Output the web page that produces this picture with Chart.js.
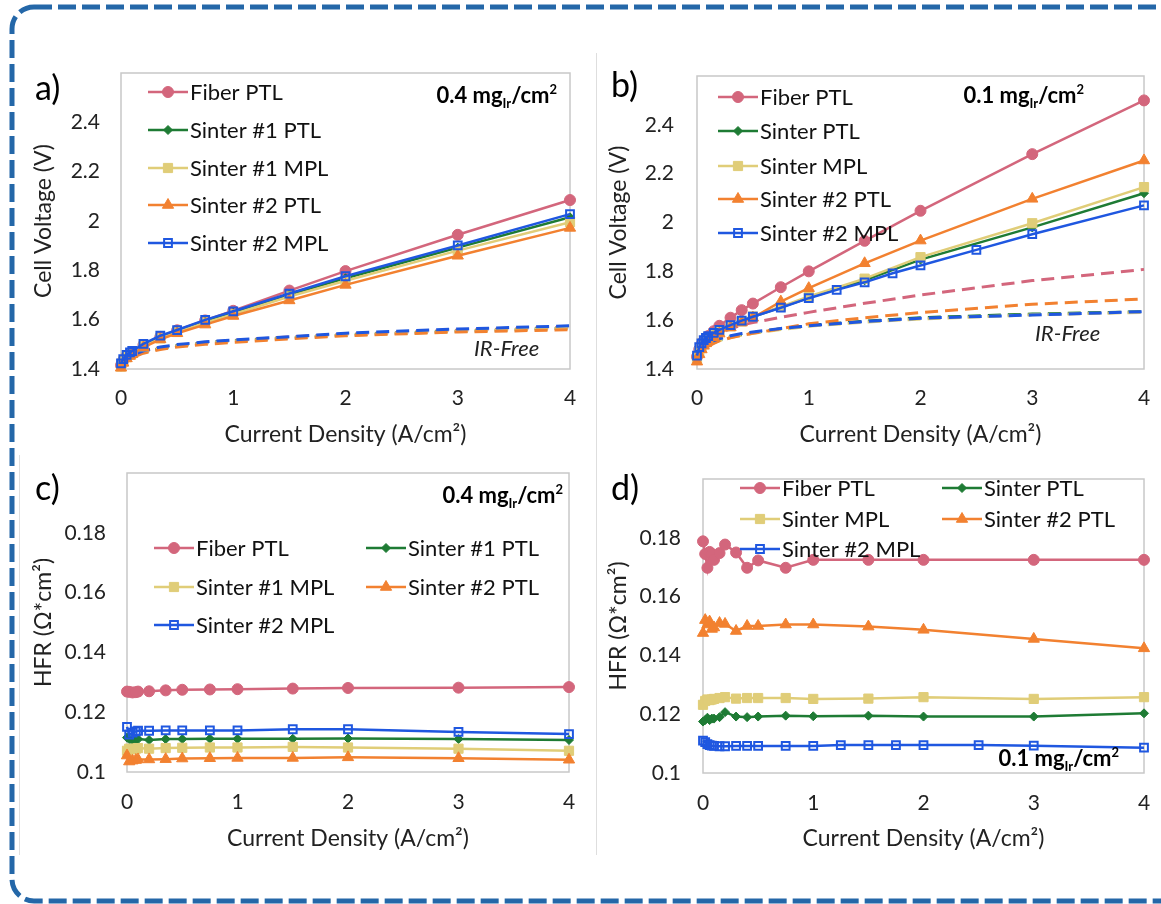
<!DOCTYPE html>
<html>
<head>
<meta charset="utf-8">
<script src="https://cdn.jsdelivr.net/npm/chart.js@4.4.1/dist/chart.umd.min.js"></script>
<style>
  body { margin: 0; background: #fff; width: 1161px; height: 904px; overflow: hidden; position: relative; font-family: Lato, sans-serif; }
  .pan { position: absolute; }
  .lab { position: absolute; font-size: 34px; line-height: 34px; color: #000; }
  .ann { position: absolute; font-weight: bold; font-size: 22px; line-height: 22px; white-space: nowrap; color: #000; }
  .ann sub { font-size: 13px; vertical-align: -5px; line-height: 0; }
  .ann sup { font-size: 13px; vertical-align: 9px; line-height: 0; }
  .irf { position: absolute; font-style: italic; font-size: 22px; line-height: 22px; color: #222; }
  .vline { position: absolute; width: 1px; background: #dedede; }
</style>
</head>
<body>
<svg width="1161" height="904" style="position:absolute;left:0;top:0">
  <rect x="12" y="7" width="1185" height="894" rx="22" ry="22" fill="none" stroke="#2467a8" stroke-width="5" stroke-dasharray="18 6"/>
</svg>
<div class="vline" style="left:596px;top:53px;height:802px"></div>
<div class="vline" style="left:19px;top:455px;height:400px"></div>

<div class="pan" style="left:20px;top:60px;width:560px;height:400px"><canvas id="cA"></canvas></div>
<div class="pan" style="left:600px;top:60px;width:561px;height:400px"><canvas id="cB"></canvas></div>
<div class="pan" style="left:20px;top:460px;width:560px;height:400px"><canvas id="cC"></canvas></div>
<div class="pan" style="left:600px;top:460px;width:561px;height:400px"><canvas id="cD"></canvas></div>

<div class="lab" style="left:35px;top:70px">a)</div>
<div class="lab" style="left:611px;top:67px">b)</div>
<div class="lab" style="left:35px;top:470px">c)</div>
<div class="lab" style="left:611px;top:470px">d)</div>

<div class="ann" style="right:604px;top:84px">0.4 mg<sub>Ir</sub>/cm<sup>2</sup></div>
<div class="ann" style="right:77px;top:84px">0.1 mg<sub>Ir</sub>/cm<sup>2</sup></div>
<div class="ann" style="right:598px;top:484px">0.4 mg<sub>Ir</sub>/cm<sup>2</sup></div>
<div class="ann" style="right:42px;top:747px">0.1 mg<sub>Ir</sub>/cm<sup>2</sup></div>
<div class="irf" style="left:474px;top:337px">IR-Free</div>
<div class="irf" style="left:1035px;top:322px">IR-Free</div>

<script>
// ---- data ----
// a) 0.4 mg loading, polarization curves
const xA = [0, 0.02, 0.05, 0.08, 0.1, 0.2, 0.35, 0.5, 0.75, 1, 1.5, 2, 3, 4];
const vA_fiber = [1.415, 1.435, 1.452, 1.462, 1.468, 1.497, 1.53, 1.557, 1.597, 1.636, 1.718, 1.797, 1.944, 2.085];
const vA_s1ptl = [1.41, 1.432, 1.45, 1.46, 1.466, 1.495, 1.527, 1.553, 1.592, 1.628, 1.702, 1.768, 1.892, 2.015];
const vA_s1mpl = [1.41, 1.43, 1.448, 1.458, 1.464, 1.492, 1.524, 1.55, 1.588, 1.622, 1.694, 1.758, 1.88, 1.995];
const vA_s2ptl = [1.405, 1.425, 1.443, 1.453, 1.46, 1.488, 1.52, 1.545, 1.58, 1.615, 1.678, 1.741, 1.859, 1.972];
const vA_s2mpl = [1.423, 1.44, 1.457, 1.467, 1.473, 1.502, 1.535, 1.558, 1.599, 1.634, 1.706, 1.776, 1.901, 2.028];
// a) IR-free
const irA_fiber = [1.415, 1.43, 1.442, 1.449, 1.453, 1.47, 1.485, 1.495, 1.507, 1.516, 1.53, 1.541, 1.557, 1.57];
const irA_s1ptl = [1.41, 1.428, 1.44, 1.447, 1.451, 1.468, 1.483, 1.493, 1.505, 1.514, 1.527, 1.538, 1.553, 1.566];
const irA_s1mpl = [1.41, 1.427, 1.439, 1.446, 1.45, 1.467, 1.482, 1.492, 1.504, 1.513, 1.526, 1.537, 1.552, 1.565];
const irA_s2ptl = [1.405, 1.424, 1.436, 1.443, 1.447, 1.464, 1.479, 1.489, 1.5, 1.508, 1.522, 1.535, 1.55, 1.559];
const irA_s2mpl = [1.423, 1.435, 1.446, 1.452, 1.456, 1.474, 1.489, 1.499, 1.51, 1.518, 1.531, 1.545, 1.562, 1.575];

// b) 0.1 mg loading
const xB = [0, 0.02, 0.04, 0.06, 0.08, 0.1, 0.15, 0.2, 0.3, 0.4, 0.5, 0.75, 1, 1.5, 2, 3, 4];
const xB2 = [0, 0.02, 0.04, 0.06, 0.08, 0.1, 0.15, 0.2, 0.3, 0.4, 0.5, 0.75, 1, 1.25, 1.5, 1.75, 2, 2.5, 3, 4];
const vB_fiber = [1.45, 1.48, 1.5, 1.515, 1.525, 1.535, 1.555, 1.577, 1.61, 1.641, 1.668, 1.735, 1.8, 1.925, 2.048, 2.28, 2.5];
const vB_s1ptl = [1.445, 1.475, 1.495, 1.51, 1.52, 1.528, 1.543, 1.557, 1.578, 1.598, 1.614, 1.653, 1.692, 1.763, 1.848, 1.98, 2.12];
const vB_s1mpl = [1.44, 1.47, 1.49, 1.505, 1.515, 1.525, 1.54, 1.555, 1.575, 1.595, 1.615, 1.655, 1.697, 1.77, 1.858, 1.997, 2.145];
const vB_s2ptl = [1.43, 1.46, 1.48, 1.495, 1.505, 1.515, 1.53, 1.545, 1.57, 1.59, 1.61, 1.676, 1.731, 1.833, 1.926, 2.097, 2.254];
const vB_s2mpl = [1.455, 1.49, 1.505, 1.518, 1.527, 1.535, 1.548, 1.56, 1.58, 1.598, 1.614, 1.651, 1.69, 1.724, 1.755, 1.792, 1.824, 1.888, 1.952, 2.07];
const irB_fiber = [1.45, 1.47, 1.485, 1.497, 1.506, 1.514, 1.53, 1.545, 1.565, 1.58, 1.59, 1.612, 1.632, 1.669, 1.703, 1.762, 1.808];
const irB_s1ptl = [1.445, 1.465, 1.478, 1.487, 1.493, 1.499, 1.51, 1.519, 1.532, 1.541, 1.549, 1.565, 1.578, 1.596, 1.61, 1.625, 1.635];
const irB_s1mpl = [1.44, 1.46, 1.474, 1.483, 1.49, 1.496, 1.507, 1.516, 1.529, 1.538, 1.546, 1.562, 1.575, 1.592, 1.605, 1.622, 1.632];
const irB_s2ptl = [1.43, 1.455, 1.47, 1.48, 1.487, 1.493, 1.505, 1.515, 1.528, 1.538, 1.546, 1.565, 1.585, 1.61, 1.631, 1.665, 1.687];
const irB_s2mpl = [1.455, 1.475, 1.487, 1.495, 1.501, 1.506, 1.516, 1.524, 1.536, 1.545, 1.552, 1.566, 1.577, 1.594, 1.608, 1.621, 1.635];

// c) HFR 0.4 mg
const xC = [0, 0.02, 0.05, 0.08, 0.1, 0.2, 0.35, 0.5, 0.75, 1, 1.5, 2, 3, 4];
const hC_fiber = [0.1269, 0.1268, 0.1266, 0.1267, 0.1269, 0.127, 0.1273, 0.1275, 0.1276, 0.1277, 0.1279, 0.1281, 0.1282, 0.1284];
const hC_s1ptl = [0.1115, 0.111, 0.1105, 0.1108, 0.111, 0.1107, 0.111, 0.111, 0.1111, 0.1111, 0.1111, 0.1112, 0.111, 0.1107];
const hC_s1mpl = [0.1071, 0.1078, 0.1076, 0.1078, 0.108, 0.1078, 0.108, 0.1081, 0.1082, 0.1082, 0.1084, 0.1082, 0.1078, 0.1071];
const hC_s2ptl = [0.1055, 0.1035, 0.1038, 0.104, 0.1042, 0.1042, 0.1043, 0.1045, 0.1046, 0.1047, 0.1047, 0.1049, 0.1046, 0.1041];
const hC_s2mpl = [0.1151, 0.1125, 0.1132, 0.1136, 0.1138, 0.1138, 0.1139, 0.1139, 0.1139, 0.1139, 0.1143, 0.1143, 0.1134, 0.1127];

// d) HFR 0.1 mg
const xD = [0, 0.02, 0.04, 0.06, 0.08, 0.1, 0.15, 0.2, 0.3, 0.4, 0.5, 0.75, 1, 1.5, 2, 3, 4];
const xD2 = [0, 0.02, 0.04, 0.06, 0.08, 0.1, 0.15, 0.2, 0.3, 0.4, 0.5, 0.75, 1, 1.25, 1.5, 1.75, 2, 2.5, 3, 4];
const hD_fiber = [0.1788, 0.1745, 0.1698, 0.1752, 0.1745, 0.1725, 0.1748, 0.1777, 0.175, 0.1698, 0.1723, 0.1698, 0.1725, 0.1725, 0.1725, 0.1725, 0.1725];
const hD_s1ptl = [0.1175, 0.118, 0.1188, 0.118, 0.1185, 0.1185, 0.119, 0.1207, 0.1192, 0.119, 0.1192, 0.1195, 0.1193, 0.1195, 0.1192, 0.1192, 0.1203];
const hD_s1mpl = [0.1232, 0.1245, 0.125, 0.1248, 0.125, 0.1252, 0.1255, 0.1258, 0.1253, 0.1255, 0.1255, 0.1255, 0.1252, 0.1253, 0.1258, 0.1252, 0.1258];
const hD_s2ptl = [0.1476, 0.152, 0.1505, 0.1515, 0.149, 0.1495, 0.151, 0.1507, 0.1483, 0.15, 0.15, 0.1505, 0.1505, 0.1498, 0.1487, 0.1456, 0.1424];
const hD_s2mpl = [0.111, 0.1105, 0.1098, 0.1095, 0.1093, 0.1092, 0.1091, 0.1091, 0.1092, 0.1092, 0.1092, 0.1092, 0.1092, 0.1095, 0.1095, 0.1095, 0.1095, 0.1095, 0.1093, 0.1086];

const xTicks = [0, 1, 2, 3, 4];
const vTicks = [1.4, 1.6, 1.8, 2, 2.2, 2.4];
const hTicks = [0.1, 0.12, 0.14, 0.16, 0.18];

// ---- styles ----
const STY = {
  fiber: { color: '#d3667c', shape: 'circle', r: 5.5, fill: '#d3667c' },
  s1ptl: { color: '#1e7b34', shape: 'rectRot', r: 4.5, fill: '#1e7b34' },
  s1mpl: { color: '#e0cd78', shape: 'rect', r: 6.5, fill: '#e0cd78' },
  s2ptl: { color: '#f28130', shape: 'triangle', r: 6.5, fill: '#f28130' },
  s2mpl: { color: '#1f57e0', shape: 'rect', r: 5.5, fill: 'rgba(255,255,255,0)' }
};
const ORDER = ['fiber', 's1ptl', 's1mpl', 's2ptl', 's2mpl'];

function pts(xs, ys) { return ys.map((y, i) => ({ x: xs[i], y: y })); }

function solid(label, key, xs, ys) {
  const s = STY[key];
  return {
    label: label, data: pts(xs, ys), borderColor: s.color, borderWidth: 2.5,
    pointStyle: s.shape, pointRadius: s.r, pointHoverRadius: s.r,
    pointBackgroundColor: s.fill, pointBorderColor: s.color,
    pointBorderWidth: key === 's2mpl' ? 2 : 1,
    tension: 0, clip: false, order: 14 - ORDER.indexOf(key)
  };
}
function dashed(key, xs, ys) {
  const s = STY[key];
  return {
    label: '', data: pts(xs, ys), borderColor: s.color, borderWidth: 3,
    borderDash: [13, 7], pointRadius: 0, tension: 0, clip: false,
    order: 24 - ORDER.indexOf(key)
  };
}

const frame = {
  id: 'frame',
  beforeDatasetsDraw(chart) {
    const a = chart.chartArea, c = chart.ctx;
    c.save();
    c.strokeStyle = '#c8c8c8'; c.lineWidth = 1.5;
    c.strokeRect(a.left, a.top, a.right - a.left, a.bottom - a.top);
    c.restore();
  }
};

function drawMarker(ctx, ds, x, y) {
  ctx.fillStyle = ds.pointBackgroundColor;
  ctx.strokeStyle = ds.pointBorderColor;
  ctx.lineWidth = ds.pointBorderWidth;
  if (Chart.helpers && Chart.helpers.drawPoint) {
    Chart.helpers.drawPoint(ctx, { pointStyle: ds.pointStyle, radius: ds.pointRadius, rotation: 0, borderWidth: ds.pointBorderWidth }, x, y);
  } else {
    ctx.beginPath(); ctx.arc(x, y, ds.pointRadius, 0, Math.PI * 2); ctx.fill(); ctx.stroke();
  }
}

const xLegend = {
  id: 'xleg',
  afterDatasetsDraw(chart, args, o) {
    const ctx = chart.ctx;
    ctx.save();
    o.items.forEach(it => {
      const ds = chart.data.datasets[it.ds];
      ctx.setLineDash([]);
      ctx.strokeStyle = ds.borderColor; ctx.lineWidth = ds.borderWidth;
      ctx.beginPath(); ctx.moveTo(it.x, it.y); ctx.lineTo(it.x + 40, it.y); ctx.stroke();
      drawMarker(ctx, ds, it.x + 20, it.y);
      ctx.fillStyle = '#111'; ctx.font = '22px Lato'; ctx.textBaseline = 'middle'; ctx.textAlign = 'left';
      ctx.fillText(ds.label, it.x + 42, it.y + 1);
    });
    ctx.restore();
  }
};

function panel(id, datasets, p) {
  const tickFont = { family: 'Lato', size: 21 };
  const titleFont = { family: 'Lato', size: 23 };
  new Chart(document.getElementById(id), {
    type: 'line',
    data: { datasets: datasets },
    options: {
      responsive: true, maintainAspectRatio: false, animation: false,
      layout: { padding: { left: 0, right: p.padR, top: p.padT, bottom: 0 } },
      plugins: { legend: { display: false }, tooltip: { enabled: false }, xleg: { items: p.legend } },
      scales: {
        x: {
          type: 'linear', min: 0, max: 4,
          afterBuildTicks: s => { s.ticks = xTicks.map(v => ({ value: v })); },
          grid: { display: false, drawTicks: false }, border: { display: false },
          ticks: { font: tickFont, color: '#222', padding: p.xPad },
          title: { display: true, text: 'Current Density (A/cm²)', font: titleFont, color: '#222', padding: { top: 0, bottom: p.xTitlePad } },
          afterFit: s => { s.height = p.xH; s.paddingLeft = 0; s.paddingRight = 0; }
        },
        y: {
          min: p.yMin, max: p.yMax,
          afterBuildTicks: s => { s.ticks = p.yTicks.map(v => ({ value: v })); },
          grid: { display: false, drawTicks: false }, border: { display: false },
          ticks: { font: tickFont, color: '#222', padding: p.yPad, callback: v => String(+v.toFixed(2)) },
          title: { display: true, text: p.yTitle, font: titleFont, color: '#222', padding: { top: p.yTitlePad, bottom: 0 } },
          afterFit: s => { s.width = p.yW; s.paddingTop = 0; s.paddingBottom = 0; }
        }
      }
    },
    plugins: [frame, xLegend]
  });
}

panel('cA', [
  solid('Fiber PTL', 'fiber', xA, vA_fiber),
  solid('Sinter #1 PTL', 's1ptl', xA, vA_s1ptl),
  solid('Sinter #1 MPL', 's1mpl', xA, vA_s1mpl),
  solid('Sinter #2 PTL', 's2ptl', xA, vA_s2ptl),
  solid('Sinter #2 MPL', 's2mpl', xA, vA_s2mpl),
  dashed('fiber', xA, irA_fiber), dashed('s1ptl', xA, irA_s1ptl), dashed('s1mpl', xA, irA_s1mpl),
  dashed('s2ptl', xA, irA_s2ptl), dashed('s2mpl', xA, irA_s2mpl)
], {
  yMin: 1.4, yMax: 2.6, yTicks: vTicks, yTitle: 'Cell Voltage (V)',
  padR: 10, padT: 13, xH: 91, yW: 101, xPad: 17, xTitlePad: 12, yPad: 21, yTitlePad: 10,
  legend: [
    { ds: 0, x: 128, y: 32 }, { ds: 1, x: 128, y: 70 }, { ds: 2, x: 128, y: 108 },
    { ds: 3, x: 128, y: 145 }, { ds: 4, x: 128, y: 183 }
  ]
});

panel('cB', [
  solid('Fiber PTL', 'fiber', xB, vB_fiber),
  solid('Sinter PTL', 's1ptl', xB, vB_s1ptl),
  solid('Sinter MPL', 's1mpl', xB, vB_s1mpl),
  solid('Sinter #2 PTL', 's2ptl', xB, vB_s2ptl),
  solid('Sinter #2 MPL', 's2mpl', xB2, vB_s2mpl),
  dashed('fiber', xB, irB_fiber), dashed('s1ptl', xB, irB_s1ptl), dashed('s1mpl', xB, irB_s1mpl),
  dashed('s2ptl', xB, irB_s2ptl), dashed('s2mpl', xB, irB_s2mpl)
], {
  yMin: 1.4, yMax: 2.6, yTicks: vTicks, yTitle: 'Cell Voltage (V)',
  padR: 17, padT: 16, xH: 91, yW: 97, xPad: 17, xTitlePad: 12, yPad: 23, yTitlePad: 5,
  legend: [
    { ds: 0, x: 118, y: 37 }, { ds: 1, x: 118, y: 71 }, { ds: 2, x: 118, y: 106 },
    { ds: 3, x: 118, y: 139 }, { ds: 4, x: 118, y: 173 }
  ]
});

panel('cC', [
  solid('Fiber PTL', 'fiber', xC, hC_fiber),
  solid('Sinter #1 PTL', 's1ptl', xC, hC_s1ptl),
  solid('Sinter #1 MPL', 's1mpl', xC, hC_s1mpl),
  solid('Sinter #2 PTL', 's2ptl', xC, hC_s2ptl),
  solid('Sinter #2 MPL', 's2mpl', xC, hC_s2mpl)
], {
  yMin: 0.1, yMax: 0.2, yTicks: hTicks, yTitle: 'HFR (Ω*cm²)',
  padR: 11, padT: 13, xH: 88, yW: 107, xPad: 18, xTitlePad: 8, yPad: 21, yTitlePad: 10,
  legend: [
    { ds: 0, x: 134, y: 88 }, { ds: 1, x: 346, y: 88 }, { ds: 2, x: 134, y: 127 },
    { ds: 3, x: 346, y: 127 }, { ds: 4, x: 134, y: 165 }
  ]
});

panel('cD', [
  solid('Fiber PTL', 'fiber', xD, hD_fiber),
  solid('Sinter PTL', 's1ptl', xD, hD_s1ptl),
  solid('Sinter MPL', 's1mpl', xD, hD_s1mpl),
  solid('Sinter #2 PTL', 's2ptl', xD, hD_s2ptl),
  solid('Sinter #2 MPL', 's2mpl', xD2, hD_s2mpl)
], {
  yMin: 0.1, yMax: 0.2, yTicks: hTicks, yTitle: 'HFR (Ω*cm²)',
  padR: 17, padT: 19, xH: 87, yW: 103, xPad: 18, xTitlePad: 8, yPad: 22, yTitlePad: 5,
  legend: [
    { ds: 0, x: 140, y: 28 }, { ds: 1, x: 342, y: 28 }, { ds: 2, x: 140, y: 59 },
    { ds: 3, x: 342, y: 59 }, { ds: 4, x: 140, y: 89 }
  ]
});
</script>
</body>
</html>
